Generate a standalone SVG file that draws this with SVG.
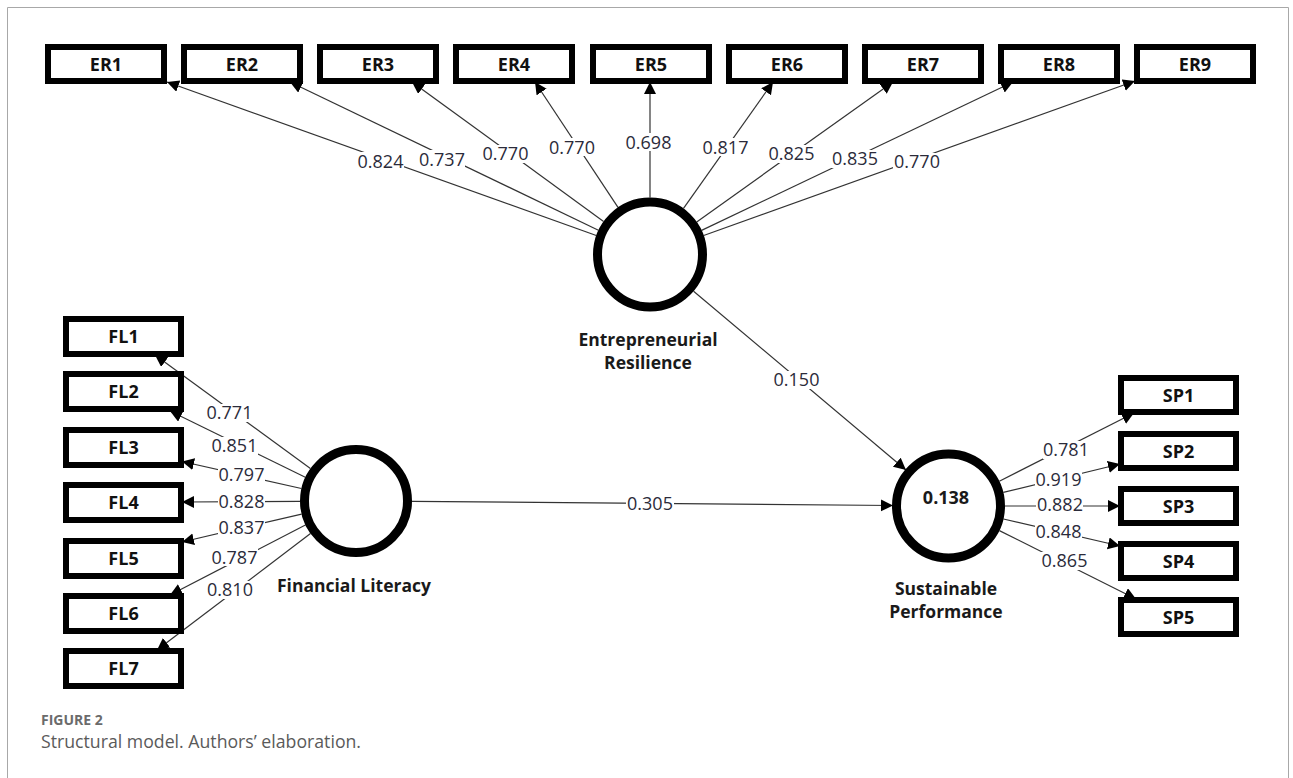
<svg xmlns="http://www.w3.org/2000/svg" width="1293" height="778" viewBox="0 0 1293 778">
<style>
.box{fill:#fff;stroke:#000;stroke-width:6}
.lv{fill:#fff;stroke:#000;stroke-width:9}
.bt{font-family:"Open Sans","Noto Sans",sans-serif;font-weight:700;font-size:18px;fill:#111;text-anchor:middle}
.lt{font-family:"Open Sans","Noto Sans",sans-serif;font-weight:700;font-size:17.5px;fill:#1a1a1a;text-anchor:middle}
.c{stroke:#333;stroke-width:1.2;fill:none;marker-end:url(#arr)}
.lb{fill:#fff}
.num{font-family:"Open Sans","Noto Sans",sans-serif;font-size:18px;fill:#2b2b3a;text-anchor:middle}
</style>
<defs>
<marker id="arr" markerUnits="userSpaceOnUse" markerWidth="13" markerHeight="13" refX="12" refY="6" orient="auto"><path d="M0,0 L12,6 L0,12 z" fill="#000"/></marker>
</defs>
<rect x="0" y="0" width="1293" height="778" fill="#fff"/>
<path d="M7.5,778 V7.5 H1288.5 V778" fill="none" stroke="#a8a8a8" stroke-width="1"/>

<g id="connectors">
<line class="c" x1="596.3" y1="235.5" x2="167" y2="82"/>
<line class="c" x1="598.4" y1="230.2" x2="290" y2="82"/>
<line class="c" x1="603.6" y1="221.4" x2="412" y2="82"/>
<line class="c" x1="618" y1="207.3" x2="535" y2="82"/>
<line class="c" x1="650" y1="197.5" x2="650" y2="82"/>
<line class="c" x1="683.5" y1="208.4" x2="773" y2="82"/>
<line class="c" x1="696.7" y1="221.9" x2="893" y2="82"/>
<line class="c" x1="701.6" y1="230.4" x2="1013" y2="82"/>
<line class="c" x1="703.7" y1="235.5" x2="1135" y2="81"/>

<line class="c" x1="310.4" y1="468.5" x2="155" y2="355"/>
<line class="c" x1="305.3" y1="477.3" x2="170" y2="411"/>
<line class="c" x1="301.4" y1="488.5" x2="182" y2="461.5"/>
<line class="c" x1="300" y1="501.3" x2="182" y2="502"/>
<line class="c" x1="301.6" y1="514.1" x2="182" y2="542"/>
<line class="c" x1="305.4" y1="525" x2="170" y2="595"/>
<line class="c" x1="310.5" y1="533.6" x2="157" y2="650"/>

<line class="c" x1="999.3" y1="481.2" x2="1134" y2="413"/>
<line class="c" x1="1003.3" y1="492.4" x2="1120" y2="464"/>
<line class="c" x1="1005" y1="506" x2="1120" y2="506"/>
<line class="c" x1="1003.5" y1="519" x2="1120" y2="546"/>
<line class="c" x1="999.4" y1="530.6" x2="1136" y2="599"/>

<line class="c" x1="693.6" y1="291.2" x2="906" y2="470"/>
<line class="c" x1="412" y1="501.3" x2="893" y2="505.5"/>

<g id="loading-labels">
<rect class="lb" x="357" y="152" width="47" height="18"/><text class="num" x="380.5" y="167.5">0.824</text>
<rect class="lb" x="419" y="150" width="46" height="18"/><text class="num" x="442" y="165.5">0.737</text>
<rect class="lb" x="482" y="145" width="47" height="18"/><text class="num" x="505.5" y="160">0.770</text>
<rect class="lb" x="548" y="138" width="47" height="18"/><text class="num" x="572" y="153.5">0.770</text>
<rect class="lb" x="625" y="133" width="47" height="18"/><text class="num" x="648.5" y="149">0.698</text>
<rect class="lb" x="702" y="138" width="47" height="18"/><text class="num" x="725.5" y="153.5">0.817</text>
<rect class="lb" x="768" y="145" width="47" height="18"/><text class="num" x="791.5" y="160">0.825</text>
<rect class="lb" x="831" y="150" width="47" height="18"/><text class="num" x="855" y="164.5">0.835</text>
<rect class="lb" x="893" y="153" width="47" height="18"/><text class="num" x="917" y="168">0.770</text>

<rect class="lb" x="206" y="404" width="47" height="18"/><text class="num" x="229.5" y="419">0.771</text>
<rect class="lb" x="211" y="437" width="47" height="18"/><text class="num" x="234.5" y="452">0.851</text>
<rect class="lb" x="218" y="466" width="47" height="18"/><text class="num" x="241.5" y="481">0.797</text>
<rect class="lb" x="218" y="492" width="47" height="18"/><text class="num" x="241.5" y="507.5">0.828</text>
<rect class="lb" x="218" y="519" width="47" height="18"/><text class="num" x="241.5" y="534">0.837</text>
<rect class="lb" x="211" y="548" width="47" height="18"/><text class="num" x="234.5" y="563.5">0.787</text>
<rect class="lb" x="206" y="581" width="47" height="18"/><text class="num" x="230" y="596">0.810</text>

<rect class="lb" x="1043" y="441" width="47" height="18"/><text class="num" x="1066" y="456">0.781</text>
<rect class="lb" x="1035" y="471" width="47" height="18"/><text class="num" x="1058.5" y="486">0.919</text>
<rect class="lb" x="1036" y="496" width="47" height="18"/><text class="num" x="1060" y="511">0.882</text>
<rect class="lb" x="1035" y="523" width="47" height="18"/><text class="num" x="1058.5" y="538">0.848</text>
<rect class="lb" x="1041" y="552" width="47" height="18"/><text class="num" x="1064.5" y="567">0.865</text>

<rect class="lb" x="773" y="371" width="47" height="18"/><text class="num" x="796.5" y="386">0.150</text>
<rect class="lb" x="626" y="494" width="48" height="18"/><text class="num" x="650" y="509.5">0.305</text>
</g>
</g>

<g id="ER"><circle class="lv" cx="650" cy="254.5" r="52.5"/><text class="lt" x="648" y="346">Entrepreneurial</text><text class="lt" x="648" y="369">Resilience</text></g>
<g id="FL"><circle class="lv" cx="356" cy="501" r="51.5"/><text class="lt" x="354" y="592">Financial Literacy</text></g>
<g id="SP"><circle class="lv" cx="948.5" cy="506" r="52"/><text class="lt" x="946" y="504" style="font-size:18px">0.138</text><text class="lt" x="946" y="595">Sustainable</text><text class="lt" x="946" y="618">Performance</text></g>

<g id="ER1"><rect class="box" x="48" y="47" width="116" height="34"/><text class="bt" x="106" y="70.5">ER1</text></g>
<g id="ER2"><rect class="box" x="184" y="47" width="116" height="34"/><text class="bt" x="242" y="70.5">ER2</text></g>
<g id="ER3"><rect class="box" x="320" y="47" width="116" height="34"/><text class="bt" x="378" y="70.5">ER3</text></g>
<g id="ER4"><rect class="box" x="456" y="47" width="116" height="34"/><text class="bt" x="514" y="70.5">ER4</text></g>
<g id="ER5"><rect class="box" x="593" y="47" width="116" height="34"/><text class="bt" x="651" y="70.5">ER5</text></g>
<g id="ER6"><rect class="box" x="729" y="47" width="116" height="34"/><text class="bt" x="787" y="70.5">ER6</text></g>
<g id="ER7"><rect class="box" x="865" y="47" width="116" height="34"/><text class="bt" x="923" y="70.5">ER7</text></g>
<g id="ER8"><rect class="box" x="1001" y="47" width="116" height="34"/><text class="bt" x="1059" y="70.5">ER8</text></g>
<g id="ER9"><rect class="box" x="1137" y="47" width="116" height="34"/><text class="bt" x="1195" y="70.5">ER9</text></g>

<g id="FL1"><rect class="box" x="66" y="319" width="115" height="35"/><text class="bt" x="123.5" y="343">FL1</text></g>
<g id="FL2"><rect class="box" x="66" y="374" width="115" height="35"/><text class="bt" x="123.5" y="398">FL2</text></g>
<g id="FL3"><rect class="box" x="66" y="430" width="115" height="35"/><text class="bt" x="123.5" y="454">FL3</text></g>
<g id="FL4"><rect class="box" x="66" y="485" width="115" height="35"/><text class="bt" x="123.5" y="509">FL4</text></g>
<g id="FL5"><rect class="box" x="66" y="541" width="115" height="35"/><text class="bt" x="123.5" y="565">FL5</text></g>
<g id="FL6"><rect class="box" x="66" y="596" width="115" height="35"/><text class="bt" x="123.5" y="620">FL6</text></g>
<g id="FL7"><rect class="box" x="66" y="651" width="115" height="35"/><text class="bt" x="123.5" y="675">FL7</text></g>

<g id="SP1"><rect class="box" x="1121" y="378" width="115" height="34"/><text class="bt" x="1178.5" y="402">SP1</text></g>
<g id="SP2"><rect class="box" x="1121" y="434" width="115" height="34"/><text class="bt" x="1178.5" y="458">SP2</text></g>
<g id="SP3"><rect class="box" x="1121" y="489" width="115" height="34"/><text class="bt" x="1178.5" y="513">SP3</text></g>
<g id="SP4"><rect class="box" x="1121" y="544" width="115" height="34"/><text class="bt" x="1178.5" y="568">SP4</text></g>
<g id="SP5"><rect class="box" x="1121" y="600" width="115" height="34"/><text class="bt" x="1178.5" y="624">SP5</text></g>

<g id="caption">
<text x="41" y="725" style="font-family:'Open Sans','Noto Sans',sans-serif;font-weight:700;font-size:14px;fill:#6b6b6b">FIGURE 2</text>
<text x="41" y="748" style="font-family:'Open Sans','Noto Sans',sans-serif;font-size:17.7px;fill:#5a5a5a">Structural model. Authors’ elaboration.</text>
</g>
</svg>
